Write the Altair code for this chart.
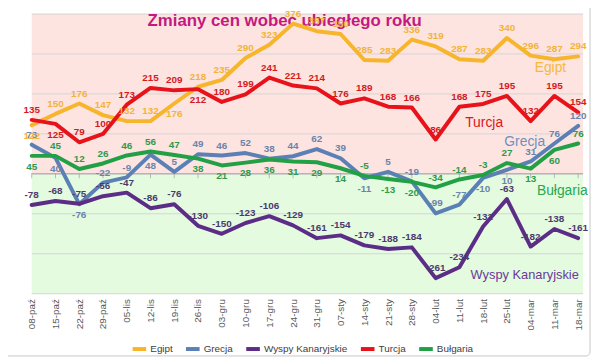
import altair as alt
import pandas as pd

# ---------------- data ----------------
dates = ["08-paź", "15-paź", "22-paź", "29-paź", "05-lis", "12-lis", "19-lis", "26-lis",
         "03-gru", "10-gru", "17-gru", "24-gru", "31-gru", "07-sty", "14-sty", "21-sty",
         "28-sty", "04-lut", "11-lut", "18-lut", "25-lut", "04-mar", "11-mar", "18-mar"]

egipt = [122, 150, 176, 147, 132, 132, 176, 218, 235, 290, 323, 376, 357, 350, 285, 283,
         336, 319, 287, 283, 340, 296, 287, 294]
grecja = [73, 40, -76, -22, -9, 48, 5, 49, 46, 52, 38, 44, 62, 39, -11, 5,
          -19, -99, -77, -10, 10, 31, 76, 120]
wyspy = [-78, -68, -75, -56, -47, -86, -76, -130, -150, -123, -106, -129, -161, -154, -179, -188,
         -184, -261, -234, -132, -63, -182, -138, -161]
turcja = [135, 125, 79, 100, 173, 215, 209, 212, 180, 199, 241, 221, 214, 176, 189, 168,
          166, 86, 168, 175, 195, 132, 195, 154]
bulgaria = [45, 45, 12, 26, 46, 56, 47, 38, 21, 28, 36, 31, 29, 14, -5, -13,
            -20, -34, -14, -3, 27, 13, 60, 76]

series_names = ["Egipt", "Grecja", "Wyspy Kanaryjskie", "Turcja", "Bułgaria"]
series_values = [egipt, grecja, wyspy, turcja, bulgaria]
line_colors = ["#f7b52c", "#5b80b6", "#5c2d87", "#e8121a", "#22a046"]
label_colors = ["#f2b33a", "#6a84ab", "#4a3a6e", "#d41a1f", "#2e9a4c"]

y_ticks = [-300, -200, -100, 0, 100, 200, 300, 400]
title_text = "Zmiany cen wobec ubiegłego roku"

# in-chart series names: (text, anchor category, anchor value)
ann_names = ["Egipt", "Turcja", "Grecja", "Bułgaria", "Wyspy Kanaryjskie"]
ann_dates = ["11-mar", "18-lut", "04-mar", "11-mar", "04-mar"]
ann_values = [266, 128, 79, -43, -254]
ann_colors = ["#f5b840", "#e0141c", "#6f8fc0", "#28a850", "#6a3a9a"]

# ---------------- tables ----------------
rows = []
for si, (name, vals, lc) in enumerate(zip(series_names, series_values, label_colors)):
    for i, (d, v) in enumerate(zip(dates, vals)):
        # label goes below the line when another series runs just above it
        others = [sv[i] for sj, sv in enumerate(series_values) if sj != si]
        close_above = [o for o in others if o >= v and (o - v) < 34]
        pos = "below" if close_above else "above"
        rows.append({"series": name, "date": d, "idx": i, "value": v,
                     "lab": str(v), "lcol": lc, "pos": pos})
df = pd.DataFrame(rows)

W, H = 553, 283
FONT = "Liberation Sans"

x_enc = alt.X("date:N", sort=dates,
              scale=alt.Scale(type="point", padding=0),
              axis=alt.Axis(title=None, labelAngle=270, labelFontSize=10,
                            labelColor="#595959", labelFont=FONT, ticks=False,
                            domain=False, labelPadding=5, grid=False))
y_scale = alt.Scale(domain=[-300, 400], nice=False, zero=False)
y_enc = alt.Y("value:Q", scale=y_scale,
              axis=alt.Axis(title=None, values=y_ticks, grid=False, labelFontSize=10,
                            labelColor="#595959", labelFont=FONT, domainColor="#8c8c8c",
                            tickColor="#8c8c8c", tickSize=5, labelPadding=2))

bg_df = pd.DataFrame({"lo": [0, -300], "hi": [400, 0], "fill": ["#fde4e0", "#e4fbe0"]})
bg = alt.Chart(bg_df).mark_rect().encode(
    y=alt.Y("lo:Q", scale=y_scale, axis=None), y2="hi:Q",
    x=alt.value(0), x2=alt.value(W + 5),
    color=alt.Color("fill:N", scale=None))

grid = alt.Chart(pd.DataFrame({"value": y_ticks})).mark_rule(
    color="#d4d4d4", strokeWidth=1).encode(
    y=alt.Y("value:Q", scale=y_scale, axis=None), x=alt.value(0), x2=alt.value(W + 5))

zero = alt.Chart(pd.DataFrame({"value": [0]})).mark_rule(
    color="#a0a0a0", strokeWidth=1).encode(
    y=alt.Y("value:Q", scale=y_scale, axis=None), x=alt.value(0), x2=alt.value(W + 5))

zero_ticks = alt.Chart(pd.DataFrame({"date": dates, "value": [0] * len(dates)})).mark_tick(
    color="#a0a0a0", orient="vertical", size=5, thickness=1, yOffset=2).encode(
    x=x_enc, y=alt.Y("value:Q", scale=y_scale, axis=None))

frame = alt.Chart(pd.DataFrame({"a": [0]})).mark_rect(
    fill="transparent", stroke="#c8c8c8", strokeWidth=1, cornerRadius=4).encode(
    x=alt.value(-30), x2=alt.value(W + 12), y=alt.value(-10), y2=alt.value(H + 63))

title = alt.Chart(pd.DataFrame({"t": [title_text]})).mark_text(
    font=FONT, fontSize=17, fontWeight="bold", color="#c4197f", baseline="middle").encode(
    text="t:N", x=alt.value(256), y=alt.value(7))

lines = alt.Chart(df).mark_line(strokeWidth=4, strokeJoin="round", strokeCap="round").encode(
    x=x_enc, y=y_enc, order="idx:Q",
    color=alt.Color("series:N", sort=series_names,
                    scale=alt.Scale(domain=series_names, range=line_colors),
                    legend=alt.Legend(title=None, orient="none", direction="horizontal",
                                      legendX=100, legendY=330, symbolType="stroke",
                                      symbolStrokeWidth=4, symbolSize=190,
                                      labelFontSize=10, labelColor="#404040",
                                      labelFont=FONT, columnPadding=5, labelOffset=2)))

lab_common = dict(font=FONT, fontSize=10, fontWeight="bold")
labels_above = alt.Chart(df).transform_filter("datum.pos == 'above'").mark_text(
    dy=-10, baseline="middle", **lab_common).encode(
    x=x_enc, y=y_enc, text="lab:N", color=alt.Color("lcol:N", scale=None))
labels_below = alt.Chart(df).transform_filter("datum.pos == 'below'").mark_text(
    dy=11, baseline="middle", **lab_common).encode(
    x=x_enc, y=y_enc, text="lab:N", color=alt.Color("lcol:N", scale=None))

ann_df = pd.DataFrame({"name": ann_names, "date": ann_dates, "value": ann_values,
                       "col": ann_colors})
ann_dx = {"Egipt": -4, "Turcja": 1, "Grecja": -6, "Bułgaria": 8, "Wyspy Kanaryjskie": -6}
ann_size = {"Egipt": 14, "Turcja": 14, "Grecja": 14, "Bułgaria": 14, "Wyspy Kanaryjskie": 13}
ann_layers = []
for nm in ann_names:
    ann_layers.append(
        alt.Chart(ann_df).transform_filter(alt.datum.name == nm).mark_text(
            font=FONT, fontSize=ann_size[nm], dx=ann_dx[nm], baseline="middle").encode(
            x=x_enc, y=y_enc, text="name:N", color=alt.Color("col:N", scale=None)))

chart = alt.layer(bg, grid, zero, zero_ticks, title, lines, labels_above, labels_below,
                  *ann_layers, frame).properties(
    width=W, height=H,
    padding={"left": 24, "top": 4, "right": 14, "bottom": 66},
    autosize=alt.AutoSizeParams(type="none"),
).configure_view(stroke=None)

chart.save("out.html", embed_options={"renderer": "svg", "actions": False})
